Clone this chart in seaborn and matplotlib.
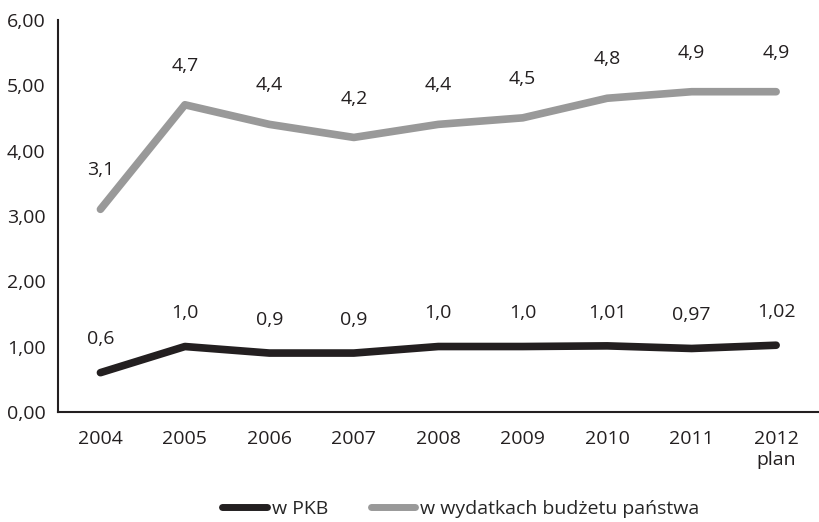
import pandas as pd
import numpy as np
import seaborn as sns
import matplotlib.pyplot as plt
from matplotlib.ticker import FixedLocator, FuncFormatter

sns.set_style("white")
plt.rcParams['font.family'] = ['Open Sans', 'DejaVu Sans']

## Data
years = ["2004", "2005", "2006", "2007", "2008", "2009", "2010", "2011", "2012\nplan"]
pkb = [0.6, 1.0, 0.9, 0.9, 1.0, 1.0, 1.01, 0.97, 1.02]
budzet = [3.1, 4.7, 4.4, 4.2, 4.4, 4.5, 4.8, 4.9, 4.9]
pkb_labels = ["0,6", "1,0", "0,9", "0,9", "1,0", "1,0", "1,01", "0,97", "1,02"]
budzet_labels = ["3,1", "4,7", "4,4", "4,2", "4,4", "4,5", "4,8", "4,9", "4,9"]
series_names = ["w PKB", "w wydatkach budżetu państwa"]

df = pd.DataFrame({
    "pos": list(range(len(years))) * 2,
    "value": pkb + budzet,
    "series": [series_names[0]] * len(years) + [series_names[1]] * len(years),
})

fs = 14
fig = plt.figure(figsize=(8.2, 5.22), dpi=100)
ax = fig.add_axes([0.071, 0.211, 0.927, 0.751])

palette = {series_names[0]: "#231f20", series_names[1]: "#999999"}
sns.lineplot(data=df, x="pos", y="value", hue="series", palette=palette,
             linewidth=5.5, ax=ax, sort=False, legend=True)
for line in ax.get_lines():
    line.set_solid_capstyle("round")
    line.set_solid_joinstyle("round")

for i, (v, lab) in enumerate(zip(pkb, pkb_labels)):
    ax.annotate(lab, (i, v), xytext=(0, 24), textcoords="offset points",
                ha="center", va="center", fontsize=fs, color="#231f20")
for i, (v, lab) in enumerate(zip(budzet, budzet_labels)):
    ax.annotate(lab, (i, v), xytext=(0, 28), textcoords="offset points",
                ha="center", va="center", fontsize=fs, color="#231f20")

ax.set_xlim(-0.5, len(years) - 0.5)
ax.set_ylim(0, 6)
ax.set_yticks(np.arange(0, 7, 1))
ax.yaxis.set_major_formatter(FuncFormatter(lambda v, p: f"{v:.2f}".replace(".", ",")))
ax.set_xticks(range(len(years)))
ax.set_xticklabels(years)
ax.xaxis.set_minor_locator(FixedLocator(np.arange(0.5, len(years) - 1, 1)))
ax.tick_params(axis="x", which="major", length=0, pad=13, labelsize=fs, colors="#231f20")
ax.tick_params(axis="x", which="minor", length=6, width=1.5, direction="out", color="#231f20")
ax.tick_params(axis="y", length=6, width=1.5, direction="out", labelsize=fs, colors="#231f20", pad=3)
ax.set_xlabel("")
ax.set_ylabel("")

sns.despine(ax=ax)
for s in ["left", "bottom"]:
    ax.spines[s].set_color("#231f20")
    ax.spines[s].set_linewidth(1.5)

handles, labels = ax.get_legend_handles_labels()
for h in handles:
    h.set_solid_capstyle("round")
    h.set_linewidth(5)
leg = ax.legend(handles, labels, loc="lower center", ncol=2, frameon=False,
                fontsize=fs, handlelength=2.3, handletextpad=0.25, columnspacing=2.2)
leg.set_bbox_to_anchor((0.562, -0.025), transform=fig.transFigure)

plt.savefig("out.png", dpi=100)
